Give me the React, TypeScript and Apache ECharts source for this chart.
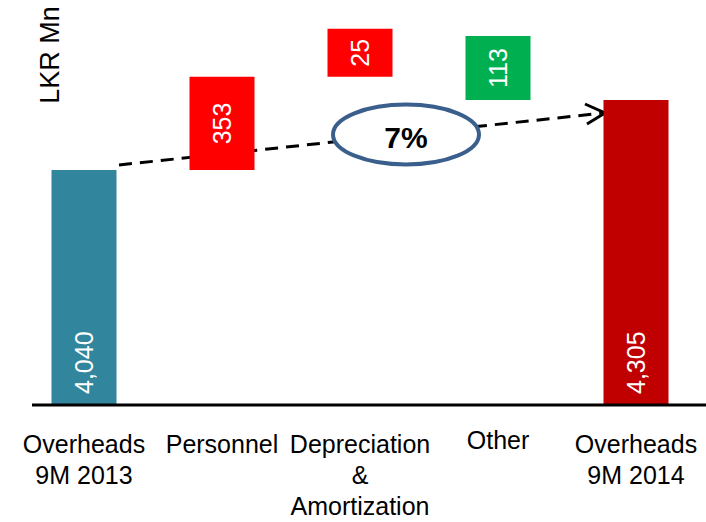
import React, { useEffect, useRef } from "react";
import * as echarts from "echarts";

// Overhead bridge, LKR Mn
const categories = [
  "Overheads\n9M 2013",
  "Personnel",
  "Depreciation\n&\nAmortization",
  "Other",
  "Overheads\n9M 2014",
];
const opening = 4040;
const closing = 4305;
// signed movements between the two totals (Personnel, D&A, Other)
const changes = [353, 25, -113];
const growthLabel = "7%";

const FONT = "'Liberation Sans', Arial, Helvetica, sans-serif";
const fmt = (v: number) => v.toLocaleString("en-US");

export default function App() {
  const ref = useRef<HTMLDivElement>(null);

  useEffect(() => {
    document.body.style.margin = "0";
    if (!ref.current) return;
    const chart = echarts.init(ref.current, undefined, { renderer: "svg" });

    // waterfall stacks: invisible base + visible movement
    const totals: any[] = [
      { value: opening, itemStyle: { color: "#31859c" } },
      "-",
      "-",
      "-",
      { value: closing, itemStyle: { color: "#c00000" } },
    ];
    const bases: any[] = ["-"];
    const ups: any[] = ["-"];
    const downs: any[] = ["-"];
    let level = opening;
    changes.forEach((c) => {
      if (c >= 0) {
        bases.push(level);
        ups.push(c);
        downs.push("-");
        level += c;
      } else {
        level += c;
        bases.push(level);
        ups.push("-");
        downs.push(-c);
      }
    });
    bases.push("-");
    ups.push("-");
    downs.push("-");

    // single-line "Other" sits a little higher under its bar
    const axisData = categories.map((c) =>
      c === "Other" ? { value: c, textStyle: { lineHeight: 24 } } : c
    );

    const moveLabel = {
      show: true,
      position: "inside",
      rotate: 90,
      align: "center",
      verticalAlign: "middle",
      color: "#fff",
      fontSize: 25,
      fontFamily: FONT,
      formatter: (p: any) => fmt(p.value),
    };

    chart.setOption({
      animation: false,
      textStyle: { fontFamily: FONT },
      grid: {
        left: 15,
        right: 1,
        top: 9,
        bottom: 117,
        containLabel: false,
        outerBoundsMode: "none",
      },
      xAxis: {
        type: "category",
        data: axisData,
        axisLine: { show: false },
        axisTick: { show: false },
        axisLabel: {
          interval: 0,
          color: "#000",
          fontSize: 25,
          lineHeight: 31,
          margin: 23,
          fontFamily: FONT,
        },
      },
      yAxis: {
        type: "value",
        min: 3150,
        max: 4650,
        show: false,
        splitLine: { show: false },
      },
      series: [
        {
          name: "Total",
          type: "bar",
          stack: "wf",
          barWidth: 65,
          data: totals,
          label: {
            show: true,
            position: "insideBottom",
            rotate: 90,
            align: "left",
            verticalAlign: "middle",
            distance: 11,
            color: "#fff",
            fontSize: 25,
            fontFamily: FONT,
            formatter: (p: any) => fmt(p.value),
          },
        },
        {
          name: "Base",
          type: "bar",
          stack: "wf",
          barWidth: 65,
          data: bases,
          itemStyle: { color: "transparent" },
          silent: true,
        },
        {
          name: "Increase",
          type: "bar",
          stack: "wf",
          barWidth: 65,
          barMinHeight: 48,
          data: ups,
          itemStyle: { color: "#ff0000" },
          label: moveLabel,
        },
        {
          name: "Decrease",
          type: "bar",
          stack: "wf",
          barWidth: 65,
          barMinHeight: 64,
          data: downs,
          itemStyle: { color: "#00b050" },
          label: moveLabel,
        },
      ],
      graphic: [
        // baseline
        {
          type: "line",
          z: 5,
          shape: { x1: 32, y1: 405, x2: 706, y2: 405 },
          style: { stroke: "#000", lineWidth: 3 },
        },
        // trend arrow between the two totals
        {
          type: "line",
          z: 1,
          shape: { x1: 119, y1: 165, x2: 603, y2: 113 },
          style: { stroke: "#000", lineWidth: 3, lineDash: [13, 8] },
        },
        {
          type: "polyline",
          z: 1,
          shape: { points: [[585, 104], [605, 113], [587, 124]] },
          style: { stroke: "#000", lineWidth: 3, fill: "none" },
        },
        {
          type: "ellipse",
          z: 10,
          shape: { cx: 406, cy: 134.5, rx: 73, ry: 30 },
          style: { fill: "#fff", stroke: "#3a5f8d", lineWidth: 4 },
        },
        {
          type: "text",
          z: 11,
          x: 406,
          y: 137,
          style: {
            text: growthLabel,
            fill: "#000",
            fontSize: 30,
            fontWeight: "bold",
            fontFamily: FONT,
            align: "center",
            verticalAlign: "middle",
          },
        },
        {
          type: "text",
          z: 11,
          x: 50,
          y: 55,
          rotation: Math.PI / 2,
          style: {
            text: "LKR Mn",
            fill: "#000",
            fontSize: 27,
            fontFamily: FONT,
            align: "center",
            verticalAlign: "middle",
          },
        },
      ],
    });

    return () => chart.dispose();
  }, []);

  return <div ref={ref} style={{ width: 706, height: 522 }} />;
}
